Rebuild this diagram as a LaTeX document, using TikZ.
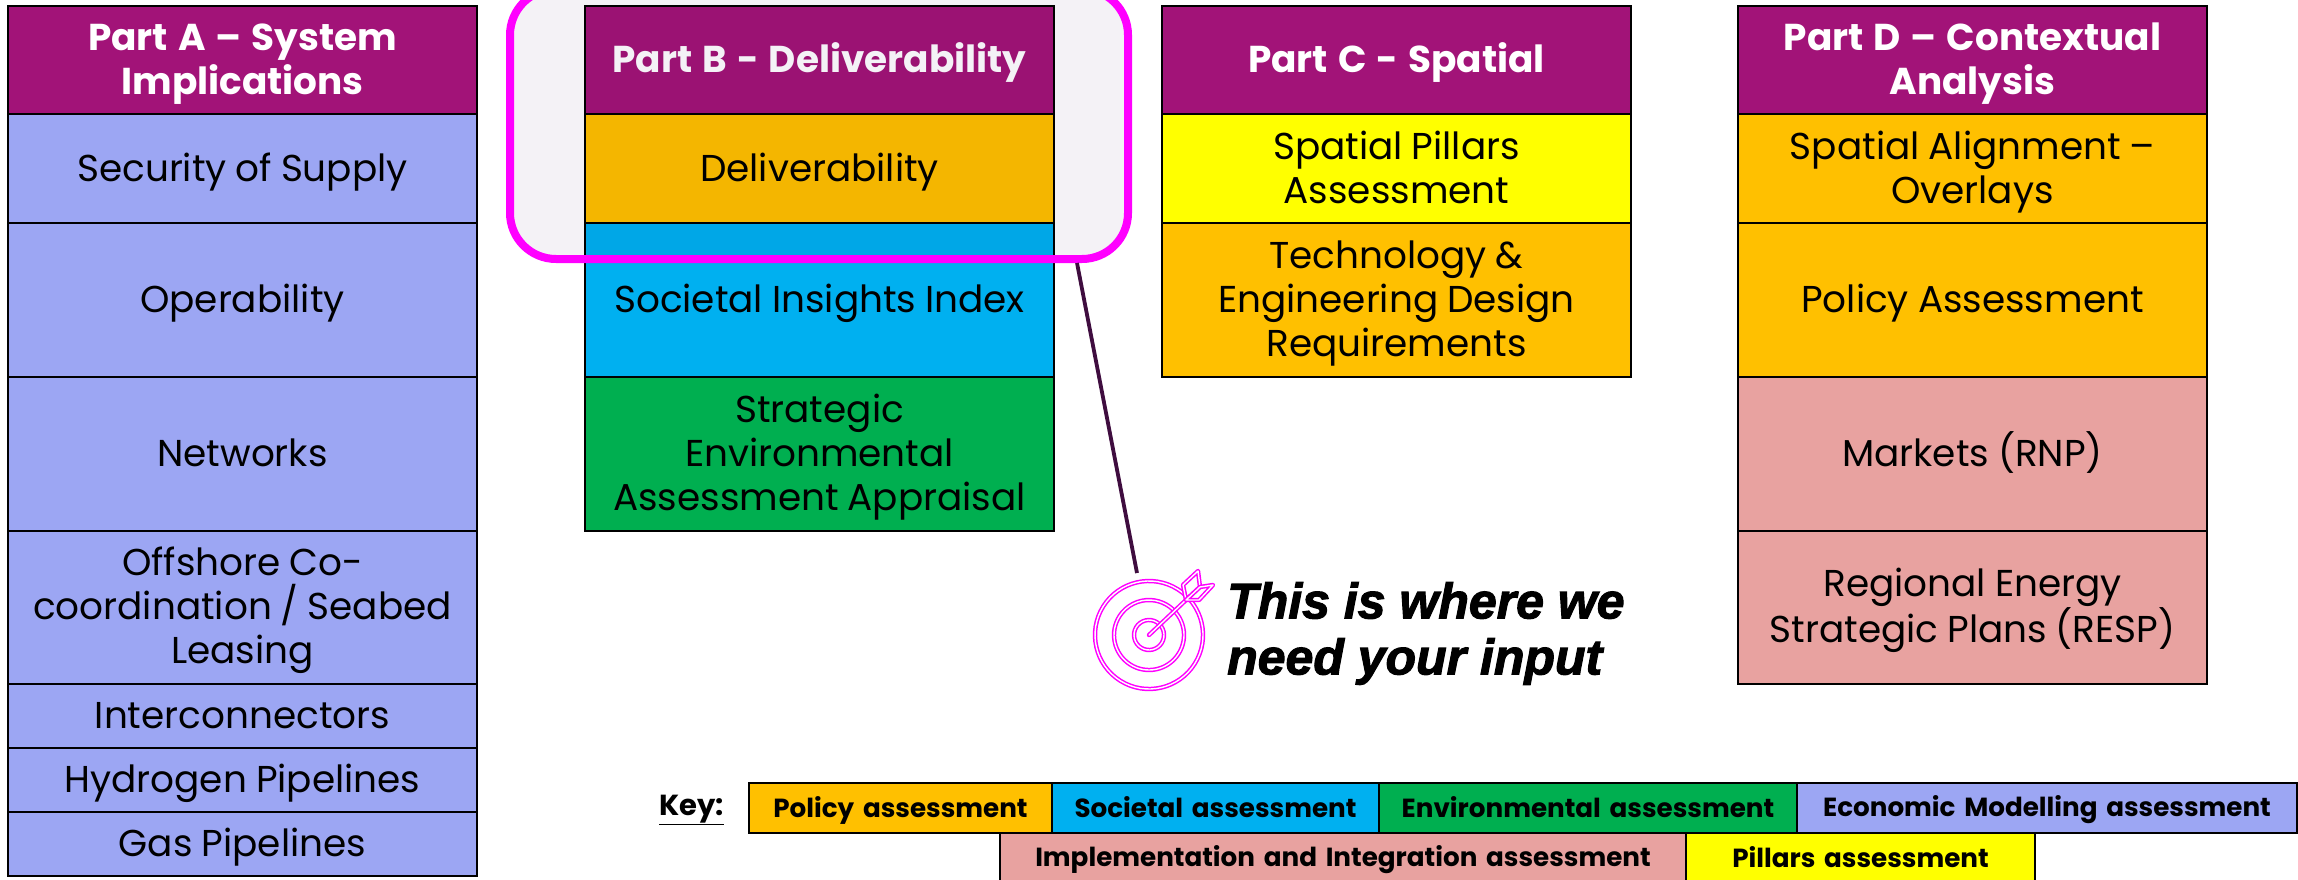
\documentclass[tikz,border=0pt]{standalone}
\usepackage{fontspec}
\setmainfont{Poppins}
\newfontfamily\ctafont{Liberation Sans}[BoldItalicFeatures={FakeBold=2.2}]
\usetikzlibrary{calc}
\definecolor{hdr}{HTML}{A21378}
\definecolor{econ}{HTML}{9CA6F3}
\definecolor{poli}{HTML}{FFC000}
\definecolor{soci}{HTML}{00B0F0}
\definecolor{envi}{HTML}{00AF50}
\definecolor{pill}{HTML}{FFFF00}
\definecolor{impl}{HTML}{E8A2A0}
\definecolor{magenta2}{HTML}{FF00FF}
\definecolor{wire}{HTML}{3F0D3F}
\definecolor{veil}{HTML}{F4F2F6}
\tikzset{
  x=1pt,y=-1pt,
  cell/.style={draw=black,line width=2.5pt,inner sep=0pt,outer sep=0pt,anchor=north west,align=center},
  tall/.style={execute at begin node={\rule{0pt}{35pt}},execute at end node={\rule[-10pt]{0pt}{10pt}}},
  body/.style={cell,tall,font=\fontsize{37.4}{44}\selectfont,text=black,execute at begin node={\spaceskip=0.9\fontdimen2\font\relax}},
  head/.style={cell,tall,font=\fontsize{37.4}{44}\selectfont\bfseries,text=white,execute at begin node={\spaceskip=10pt\relax}},
  keycell/.style={cell,font=\fontsize{26.2}{30}\selectfont\bfseries,text=black,execute at begin node={\rule{0pt}{25pt}},execute at end node={\rule[-7pt]{0pt}{7pt}}},
  iconout/.style={draw=magenta2,line width=4.4pt,line join=round,line cap=round},
  iconin/.style={draw=white,line width=1.4pt,line join=round,line cap=round},
}
% #1 style #2 name #3 x0 #4 y0 #5 x1 #6 y1 #7 fill #8 text
\newcommand\boxcell[8]{\pgfmathsetmacro\bw{#5-#3}\pgfmathsetmacro\bh{#6-#4}%
  \node[#1,fill=#7,minimum width=\bw pt,minimum height=\bh pt,text width=\bw pt-14pt] (#2) at (#3,#4) {#8};}
\newcommand\iconarc[3]{% radius, start, end
  \draw[iconout] (#2:#1) arc[start angle=#2,end angle=#3,radius=#1];
  \draw[iconin] (#2:#1) arc[start angle=#2,end angle=#3,radius=#1];}
\newcommand\iconpath[1]{\draw[iconout,fill=white] #1; \draw[iconin] #1;}
\begin{document}
\begin{tikzpicture}
\useasboundingbox (0,0) rectangle (2298,880);
% column A
\boxcell{head}{a0}{8}{6}{477}{114}{hdr}{Part A – System\\Implications}
\boxcell{body}{a1}{8}{114}{477}{223}{econ}{Security of Supply}
\boxcell{body}{a2}{8}{223}{477}{377}{econ}{Operability}
\boxcell{body}{a3}{8}{377}{477}{531}{econ}{Networks}
\boxcell{body}{a4}{8}{531}{477}{684}{econ}{Offshore Co-\\coordination / Seabed\\Leasing}
\boxcell{body}{a5}{8}{684}{477}{748}{econ}{Interconnectors}
\boxcell{body}{a6}{8}{748}{477}{812}{econ}{Hydrogen Pipelines}
\boxcell{body}{a7}{8}{812}{477}{876}{econ}{Gas Pipelines}
% column B
\boxcell{head}{b0}{585}{6}{1054}{114}{hdr}{Part B - Deliverability}
\boxcell{body}{b1}{585}{114}{1054}{223}{poli}{Deliverability}
\boxcell{body}{b2}{585}{223}{1054}{377}{soci}{Societal Insights Index}
\boxcell{body}{b3}{585}{377}{1054}{531}{envi}{Strategic\\Environmental\\Assessment Appraisal}
% column C
\boxcell{head}{c0}{1162}{6}{1631}{114}{hdr}{Part C - Spatial}
\boxcell{body}{c1}{1162}{114}{1631}{223}{pill}{Spatial Pillars\\Assessment}
\boxcell{body}{c2}{1162}{223}{1631}{377}{poli}{Technology \&\\Engineering Design\\Requirements}
% column D
\boxcell{head}{d0}{1738}{6}{2207}{114}{hdr}{Part D – Contextual\\Analysis}
\boxcell{body}{d1}{1738}{114}{2207}{223}{poli}{Spatial Alignment –\\Overlays}
\boxcell{body}{d2}{1738}{223}{2207}{377}{poli}{Policy Assessment}
\boxcell{body}{d3}{1738}{377}{2207}{531}{impl}{Markets (RNP)}
\boxcell{body}{d4}{1738}{531}{2207}{684}{impl}{Regional Energy\\Strategic Plans (RESP)}
% highlight
\begin{scope}[blend mode=multiply]
\fill[veil,rounded corners=46pt] (510,-11) rectangle (1128,259);
\end{scope}
\node[draw=magenta2,line width=8pt,rounded corners=46pt,outer sep=0pt,
      minimum width=618pt,minimum height=270pt,inner sep=0pt,anchor=south west] (focus) at (510,259) {};
% target icon
\coordinate (target) at (1149,635);
\coordinate (wireend) at (1137,573);
\draw[wire,line width=3.8pt] ($(focus.south east)+(-51,4)$) -- (wireend);
\begin{scope}[shift={(target)},yscale=-1]
\iconarc{54}{58}{-328}
\iconarc{35}{57}{-325}
\iconarc{15}{70}{-336}
\iconpath{(0,0) -- (37,35)}
\iconpath{(37,35) -- (34,50) -- (49,64) -- (51,48) -- cycle}
\iconpath{(37,35) -- (51,48) -- (64,50) -- (50,35) -- cycle}
\end{scope}
\node[anchor=north west,inner sep=0pt,align=left,font=\ctafont\fontsize{50}{56}\selectfont\bfseries\itshape] (cta) at (1227,582) {This is where we\\need your input};
% key
\node[anchor=base west,inner sep=0pt,font=\fontsize{29}{30}\selectfont\bfseries] (keylabel) at (659,815) {\underline{Key:}};
\boxcell{keycell}{k5}{1000}{833}{1686}{883}{impl}{Implementation and Integration assessment}
\boxcell{keycell}{k6}{1686}{833}{2035}{883}{pill}{Pillars assessment}
\boxcell{keycell}{k1}{749}{783}{1052}{833}{poli}{Policy assessment}
\boxcell{keycell}{k2}{1052}{783}{1379}{833}{soci}{Societal assessment}
\boxcell{keycell}{k3}{1379}{783}{1797}{833}{envi}{Environmental assessment}
\boxcell{keycell}{k4}{1797}{783}{2297}{833}{econ}{Economic Modelling assessment}
\end{tikzpicture}
\end{document}
